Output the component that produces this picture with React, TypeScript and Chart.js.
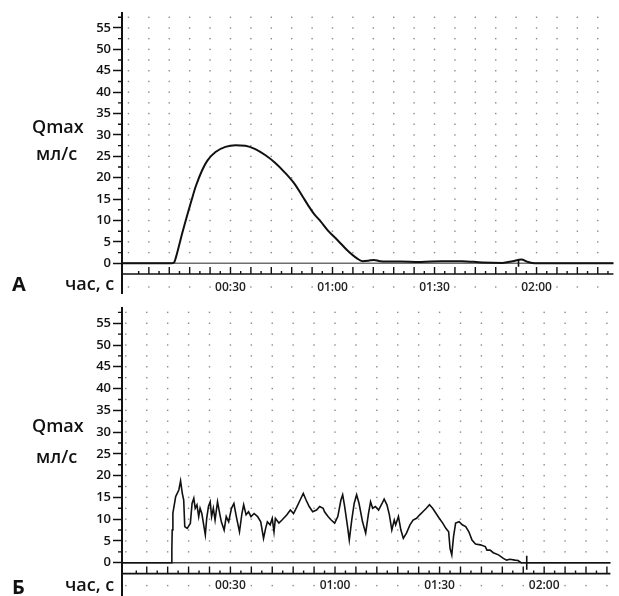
import React, { useEffect, useRef } from 'react';
import { Chart, registerables } from 'chart.js';

Chart.register(...registerables);

// ---- data ----
const yTicks = [0, 5, 10, 15, 20, 25, 30, 35, 40, 45, 50, 55];
const xTickSeconds = [30, 60, 90, 120];
const xTickLabels = ['00:30', '01:00', '01:30', '02:00'];

// Panel А: smooth flow curve (time, s / flow, ml/s)
const timeA = [-2, 12.6, 13.5, 14.0, 15.0, 15.8, 17.4, 18.5, 19.8, 21.7, 23.2, 25.6, 28.5, 31.5, 34.4, 37.3, 40.2, 43.1, 46.0, 48.9, 51.3, 52.8, 54.5, 56.5, 58.6, 61.5, 64.4, 67.3, 68.8, 70.5, 72.2, 74.0, 80.0, 86.0, 92.0, 98.0, 104.0, 110.0, 113.0, 115.5, 117.5, 119.5, 143];
const flowA = [0, 0, 0.3, 1.5, 4.5, 7.0, 11.6, 14.6, 18.0, 21.8, 24.0, 26.0, 27.2, 27.6, 27.5, 26.7, 25.3, 23.5, 21.2, 18.5, 15.5, 13.6, 11.6, 9.8, 7.7, 5.4, 3.0, 1.1, 0.5, 0.6, 0.8, 0.5, 0.4, 0.3, 0.5, 0.5, 0.2, 0.1, 0.5, 0.9, 0.3, 0, 0];
const endMarkA = 114.7;

// Panel Б: intermittent flow curve
const timeB = [-1.2, 13.1, 13.2, 13.3, 13.5, 14.3, 15.2, 15.7, 16.2, 16.6, 16.9, 17.6, 18.5, 19.0, 19.5, 19.9, 20.4, 20.9, 21.3, 21.8, 22.8, 23.2, 23.7, 24.2, 24.6, 25.1, 25.6, 26.3, 27.0, 27.4, 28.2, 28.8, 29.5, 30.3, 31.0, 31.7, 32.6, 33.3, 33.8, 34.5, 35.2, 35.9, 36.8, 37.8, 38.7, 39.5, 40.1, 40.6, 41.4, 42.0, 42.5, 42.9, 43.9, 44.8, 46.2, 47.2, 48.1, 49.1, 50.0, 50.9, 51.7, 52.6, 53.6, 54.7, 55.6, 56.6, 57.0, 58.0, 58.9, 59.9, 60.8, 61.7, 62.2, 62.7, 63.6, 64.1, 64.8, 65.5, 66.2, 66.9, 67.9, 68.8, 69.6, 70.2, 70.8, 71.6, 72.5, 73.5, 74.1, 74.9, 75.6, 76.3, 77.0, 77.4, 78.2, 78.9, 79.6, 80.5, 81.5, 82.4, 83.4, 84.3, 85.2, 86.2, 87.1, 88.0, 89.0, 89.9, 90.9, 91.8, 92.6, 93.0, 93.5, 94.0, 94.6, 95.6, 96.5, 97.5, 98.4, 99.3, 100.3, 101.7, 103.1, 103.6, 104.5, 105.4, 106.9, 108.3, 109.2, 110.2, 111.6, 112.5, 113.4, 140];
const flowB = [0, 0, 3, 7.5, 11.4, 15.2, 16.7, 18.8, 15.9, 14.4, 8.3, 7.9, 9.0, 13.6, 14.8, 12.5, 13.3, 10.6, 12.5, 11.3, 6.4, 10.2, 12.9, 14.0, 10.6, 12.5, 9.8, 14.0, 11.0, 9.4, 7.5, 10.6, 9.4, 12.5, 13.6, 10.6, 7.1, 11.3, 13.3, 11.0, 11.7, 10.6, 11.3, 10.6, 9.4, 5.6, 7.9, 9.4, 8.7, 10.2, 7.1, 10.2, 9.1, 9.8, 11.0, 12.1, 11.3, 12.9, 14.4, 15.9, 14.4, 12.9, 11.7, 12.1, 12.9, 12.5, 11.7, 10.6, 9.8, 9.1, 10.6, 14.4, 15.6, 13.3, 8.3, 5.2, 9.8, 13.6, 15.6, 13.6, 9.4, 6.8, 11.3, 14.0, 12.5, 12.9, 12.1, 13.6, 14.6, 13.3, 11.0, 7.5, 9.8, 8.7, 10.6, 7.5, 5.6, 6.8, 8.7, 9.8, 10.2, 11.0, 11.7, 12.5, 13.3, 12.5, 11.3, 10.2, 9.1, 7.9, 7.1, 3.3, 1.8, 6.0, 9.1, 9.4, 8.7, 8.3, 7.1, 5.2, 4.3, 4.1, 3.7, 2.9, 2.9, 2.3, 1.8, 1.0, 0.6, 0.8, 0.6, 0.5, 0, 0];
const endMarkB = 115.0;

const FONT = "'Open Sans', 'Noto Sans', 'DejaVu Sans', sans-serif";

// draws the dotted grid, zero line, tick bar, axis line and minor y ticks
const uroPlugin = {
  id: 'uroGrid',
  beforeDatasetsDraw(chart: any, _args: any, opts: any) {
    const { ctx, chartArea: a, scales } = chart;
    const x = scales.x;
    const y = scales.y;
    ctx.save();
    // dot grid
    ctx.fillStyle = '#8a8a8a';
    for (let t = 0; t <= x.max; t += opts.gridStep) {
      const px = x.getPixelForValue(t);
      if (px < a.left + 2 || px > a.right - 1) continue;
      for (let v = opts.dotStep; v <= y.max; v += opts.dotStep) {
        const py = y.getPixelForValue(v);
        ctx.fillRect(px - 0.7, py - 0.7, 1.4, 1.4);
      }
      const nearLabel = xTickSeconds.some((s) => Math.abs(s - t) < 4);
      if (!nearLabel) ctx.fillRect(px - 0.7, a.bottom + opts.labelRowOffset - 0.7, 1.4, 1.4);
    }
    // zero line
    const y0 = y.getPixelForValue(0);
    ctx.strokeStyle = opts.zeroColor;
    ctx.lineWidth = opts.zeroWidth;
    ctx.beginPath();
    ctx.moveTo(a.left, y0);
    ctx.lineTo(a.right, y0);
    ctx.stroke();
    // tick bar
    ctx.strokeStyle = '#111';
    ctx.lineWidth = 1.6;
    ctx.beginPath();
    ctx.moveTo(a.left, a.bottom);
    ctx.lineTo(a.right, a.bottom);
    ctx.stroke();
    ctx.lineWidth = 1.4;
    ctx.beginPath();
    for (let t = opts.tickStep; t <= x.max; t += opts.tickStep) {
      const px = x.getPixelForValue(t);
      if (px > a.right) break;
      const big = Math.round(t / opts.tickStep) % 2 === 0;
      ctx.moveTo(px, a.bottom);
      ctx.lineTo(px, a.bottom - (big ? 7 : 3));
    }
    ctx.stroke();
    // y axis line
    ctx.lineWidth = 2;
    ctx.beginPath();
    ctx.moveTo(a.left, a.top - 1);
    ctx.lineTo(a.left, a.bottom + opts.axisExtend);
    ctx.stroke();
    // minor y ticks
    ctx.lineWidth = 1.4;
    ctx.beginPath();
    for (let i = 0; i < yTicks.length; i++) {
      const py = y.getPixelForValue(yTicks[i] + 2.5);
      ctx.moveTo(a.left - 4, py);
      ctx.lineTo(a.left, py);
    }
    ctx.stroke();
    ctx.restore();
  },
};

type PanelProps = {
  times: number[];
  flows: number[];
  mark: number;
  markRadius: number;
  xMin: number;
  xMax: number;
  padTop: number;
  xAxisHeight: number;
  labelPad: number;
  lineWidth: number;
  smooth: boolean;
  axisExtend: number;
  height: number;
  top: number;
  zeroColor: string;
};

function Panel(p: PanelProps) {
  const ref = useRef<HTMLCanvasElement | null>(null);
  useEffect(() => {
    if (!ref.current) return;
    const chart = new Chart(ref.current, {
      type: 'line',
      data: {
        datasets: [
          {
            data: p.times.map((t, i) => ({ x: t, y: p.flows[i] })),
            borderColor: '#111',
            borderWidth: p.lineWidth,
            pointRadius: 0,
            fill: false,
            tension: p.smooth ? 0.4 : 0,
            cubicInterpolationMode: p.smooth ? 'monotone' : 'default',
          } as any,
          {
            data: [{ x: p.mark, y: 0 }],
            showLine: false,
            pointStyle: 'line',
            pointRotation: 90,
            pointRadius: p.markRadius,
            pointBorderColor: '#111',
            pointBorderWidth: 1.6,
            borderColor: '#111',
          } as any,
        ],
      },
      options: {
        responsive: false,
        animation: false,
        devicePixelRatio: 1,
        layout: { padding: { top: p.padTop, left: 0, right: 0, bottom: 0 } },
        plugins: {
          legend: { display: false },
          tooltip: { enabled: false },
          uroGrid: {
            gridStep: 6,
            tickStep: 3,
            dotStep: 2.5,
            labelRowOffset: p.labelPad + 7,
            zeroColor: p.zeroColor,
            zeroWidth: 1.6,
            axisExtend: p.axisExtend,
          },
        } as any,
        scales: {
          x: {
            type: 'linear',
            min: p.xMin,
            max: p.xMax,
            afterBuildTicks: (s: any) => {
              s.ticks = xTickSeconds.map((v) => ({ value: v }));
            },
            afterFit: (s: any) => {
              s.height = p.xAxisHeight;
            },
            grid: { display: false, drawTicks: false },
            border: { display: false },
            ticks: {
              autoSkip: false,
              maxRotation: 0,
              padding: p.labelPad,
              color: '#222',
              font: { family: FONT, size: 12, weight: '600' },
              callback: (v: any) => {
                const i = xTickSeconds.indexOf(Number(v));
                return i >= 0 ? xTickLabels[i] : '';
              },
            },
          },
          y: {
            type: 'linear',
            min: -2.5,
            max: 58.5,
            afterBuildTicks: (s: any) => {
              s.ticks = yTicks.map((v) => ({ value: v }));
            },
            afterFit: (s: any) => {
              s.width = 122;
            },
            grid: {
              display: true,
              drawOnChartArea: false,
              drawTicks: true,
              tickLength: 9,
              tickWidth: 1.5,
              tickColor: '#111',
              color: '#111',
            },
            border: { display: false },
            ticks: {
              padding: 2,
              color: '#111',
              font: { family: FONT, size: 13, weight: '600' },
              callback: (v: any) => String(v),
            },
          },
        },
      } as any,
      plugins: [uroPlugin as any],
    });
    return () => chart.destroy();
  }, []);
  return (
    <canvas
      ref={ref}
      width={619}
      height={p.height}
      style={{ position: 'absolute', left: 0, top: p.top, width: 619, height: p.height, display: 'block' }}
    />
  );
}

function Label({ text, left, top, size, weight }: { text: string; left: number; top: number; size: number; weight: number }) {
  return (
    <div
      style={{
        position: 'absolute',
        left,
        top,
        fontSize: size,
        fontWeight: weight,
        lineHeight: 1,
        fontFamily: FONT,
        color: '#111',
        whiteSpace: 'nowrap',
      }}
    >
      {text}
    </div>
  );
}

export default function App() {
  return (
    <div style={{ position: 'fixed', left: 0, top: 0, width: 619, height: 596, background: '#fff', overflow: 'hidden' }}>
      <Panel
        times={timeA}
        flows={flowA}
        mark={endMarkA}
        markRadius={3.5}
        xMin={-1.9}
        xMax={142.6}
        padTop={13}
        xAxisHeight={24}
        labelPad={6}
        lineWidth={2}
        smooth={true}
        axisExtend={20}
        height={298}
        top={0}
        zeroColor="#6e6e6e"
      />
      <Panel
        times={timeB}
        flows={flowB}
        mark={endMarkB}
        markRadius={7}
        xMin={-1.1}
        xMax={139}
        padTop={10}
        xAxisHeight={22.4}
        labelPad={5}
        lineWidth={1.6}
        smooth={false}
        axisExtend={24}
        height={298}
        top={298}
        zeroColor="#444"
      />
      <Label text="Qmax" left={32} top={117} size={18} weight={600} />
      <Label text="мл/с" left={36} top={143.5} size={18} weight={600} />
      <Label text="А" left={12} top={274} size={20} weight={700} />
      <Label text="час, с" left={65} top={274} size={18} weight={600} />
      <Label text="Qmax" left={32} top={415.7} size={18} weight={600} />
      <Label text="мл/с" left={36} top={447} size={18} weight={600} />
      <Label text="Б" left={12} top={577} size={20} weight={700} />
      <Label text="час, с" left={65} top={575} size={18} weight={600} />
    </div>
  );
}
